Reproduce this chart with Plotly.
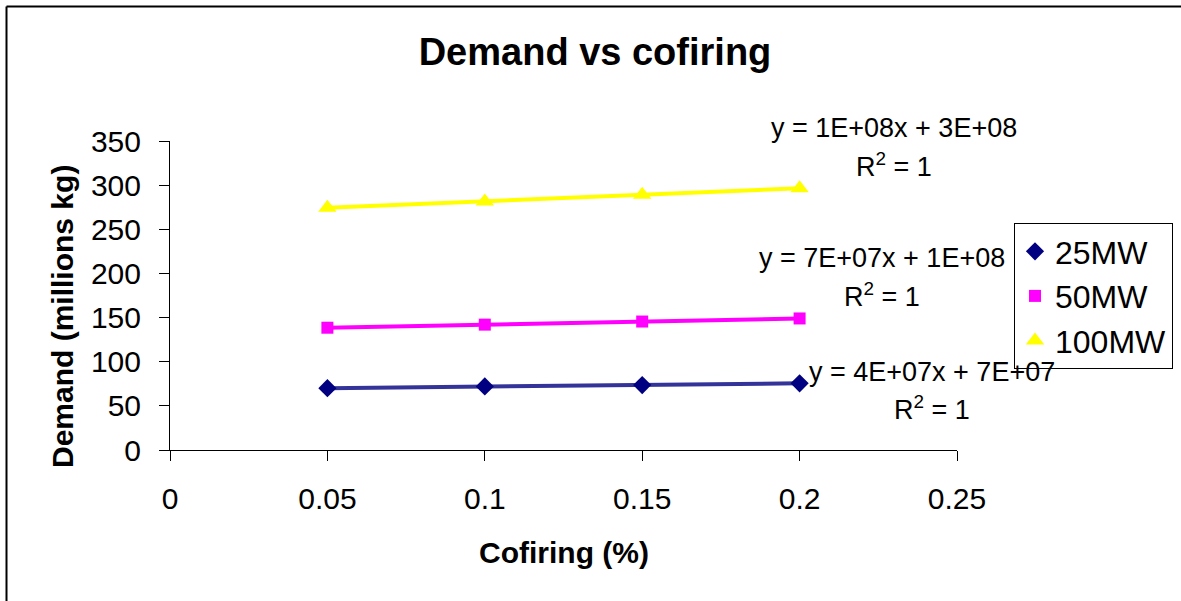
import plotly.graph_objs as go

# values
cofiring = [0.05, 0.10, 0.15, 0.20]
demand_25mw = [70, 72, 73.5, 75.5]
demand_50mw = [138.5, 142, 145.5, 149]
demand_100mw = [274.5, 281.5, 289, 296.5]

series_names = ["25MW", "50MW", "100MW"]
series_values = [demand_25mw, demand_50mw, demand_100mw]
line_colors = ["#333399", "#FF00FF", "#FFFF00"]
marker_colors = ["#000080", "#FF00FF", "#FFFF00"]
marker_symbols = ["diamond", "square", "triangle-up"]
marker_sizes = [14, 12, 16]

trend_labels = [
    ("y = 4E+07x + 7E+07", "R<sup>2</sup> = 1"),
    ("y = 7E+07x + 1E+08", "R<sup>2</sup> = 1"),
    ("y = 1E+08x + 3E+08", "R<sup>2</sup> = 1"),
]

FONT = "Liberation Sans, Arial, sans-serif"
W, H = 1181, 601
L, R, T, B = 170, 224, 141, 151
PW, PH = W - L - R, H - T - B


def px(x, y):
    # pixel position on the page -> paper coordinates
    return (x - L) / PW, (H - B - y) / PH


fig = go.Figure()

for name, values, lc in zip(series_names, series_values, line_colors):
    fig.add_trace(
        go.Scatter(
            x=cofiring,
            y=values,
            mode="lines",
            line=dict(color=lc, width=4),
            showlegend=False,
            hoverinfo="skip",
        )
    )

for name, values, mc, sym, size in zip(
    series_names, series_values, marker_colors, marker_symbols, marker_sizes
):
    fig.add_trace(
        go.Scatter(
            x=cofiring,
            y=values,
            mode="markers",
            name=name,
            marker=dict(color=mc, symbol=sym, size=size, line=dict(width=0)),
        )
    )

annotations = []
# trendline equations (pixel centres)
label_pos = [((932, 372), (932, 408)), ((882, 258), (882, 295)), ((894, 128), (894, 165))]
for (eq, r2), (p_eq, p_r2) in zip(trend_labels, label_pos):
    for text, (x, y) in ((eq, p_eq), (r2, p_r2)):
        ax, ay = px(x, y)
        annotations.append(
            dict(
                text=text,
                x=ax,
                y=ay,
                xref="paper",
                yref="paper",
                xanchor="center",
                yanchor="middle",
                showarrow=False,
                font=dict(size=27, color="black", family=FONT),
            )
        )

ax, ay = px(564, 552)
annotations.append(
    dict(
        text="<b>Cofiring (%)</b>",
        x=ax,
        y=ay,
        xref="paper",
        yref="paper",
        xanchor="center",
        yanchor="middle",
        showarrow=False,
        font=dict(size=30, color="black", family=FONT),
    )
)
ax, ay = px(62, 316)
annotations.append(
    dict(
        text="<b>Demand (millions kg)</b>",
        x=ax,
        y=ay,
        xref="paper",
        yref="paper",
        xanchor="center",
        yanchor="middle",
        textangle=-90,
        showarrow=False,
        font=dict(size=30, color="black", family=FONT),
    )
)

bx0, by0 = px(6.5, 6.5)
bx1, by1 = px(W + 5, H + 5)
shapes = [
    dict(type="line", xref="paper", yref="paper", x0=bx0, y0=by1, x1=bx0, y1=by0,
         line=dict(color="black", width=2)),
    dict(type="line", xref="paper", yref="paper", x0=bx0, y0=by0, x1=bx1, y1=by0,
         line=dict(color="black", width=2)),
]

lx, ly = px(1014, 223)
fig.update_layout(
    width=W,
    height=H,
    margin=dict(l=L, r=R, t=T, b=B, autoexpand=False),
    paper_bgcolor="white",
    plot_bgcolor="white",
    font=dict(family=FONT, color="black"),
    title=dict(
        text="<b>Demand vs cofiring</b>",
        x=595 / W,
        xanchor="center",
        y=1 - 52 / H,
        yanchor="middle",
        font=dict(size=38, color="black", family=FONT),
    ),
    xaxis=dict(
        range=[0, 0.25],
        tickmode="linear",
        tick0=0,
        dtick=0.05,
        showgrid=False,
        zeroline=False,
        showline=True,
        linecolor="black",
        linewidth=1,
        ticks="outside",
        ticklen=10,
        tickcolor="black",
        ticklabelstandoff=12,
        tickfont=dict(size=30, family=FONT, color="black"),
    ),
    yaxis=dict(
        range=[0, 350],
        tickmode="linear",
        tick0=0,
        dtick=50,
        showgrid=False,
        zeroline=False,
        showline=True,
        linecolor="black",
        linewidth=1,
        ticks="outside",
        ticklen=10,
        tickcolor="black",
        ticklabelstandoff=12,
        tickfont=dict(size=30, family=FONT, color="black"),
    ),
    legend=dict(
        x=lx,
        y=ly,
        xanchor="left",
        yanchor="top",
        bordercolor="black",
        borderwidth=1,
        bgcolor="white",
        font=dict(size=32, family=FONT, color="black"),
        itemwidth=30,
    ),
    annotations=annotations,
    shapes=shapes,
)

# drop the browser's default 8px body margin so the page matches pixel for pixel
fig.write_html(
    "out.html",
    config={"displayModeBar": False},
    post_script="document.body.style.margin='0px';",
)
